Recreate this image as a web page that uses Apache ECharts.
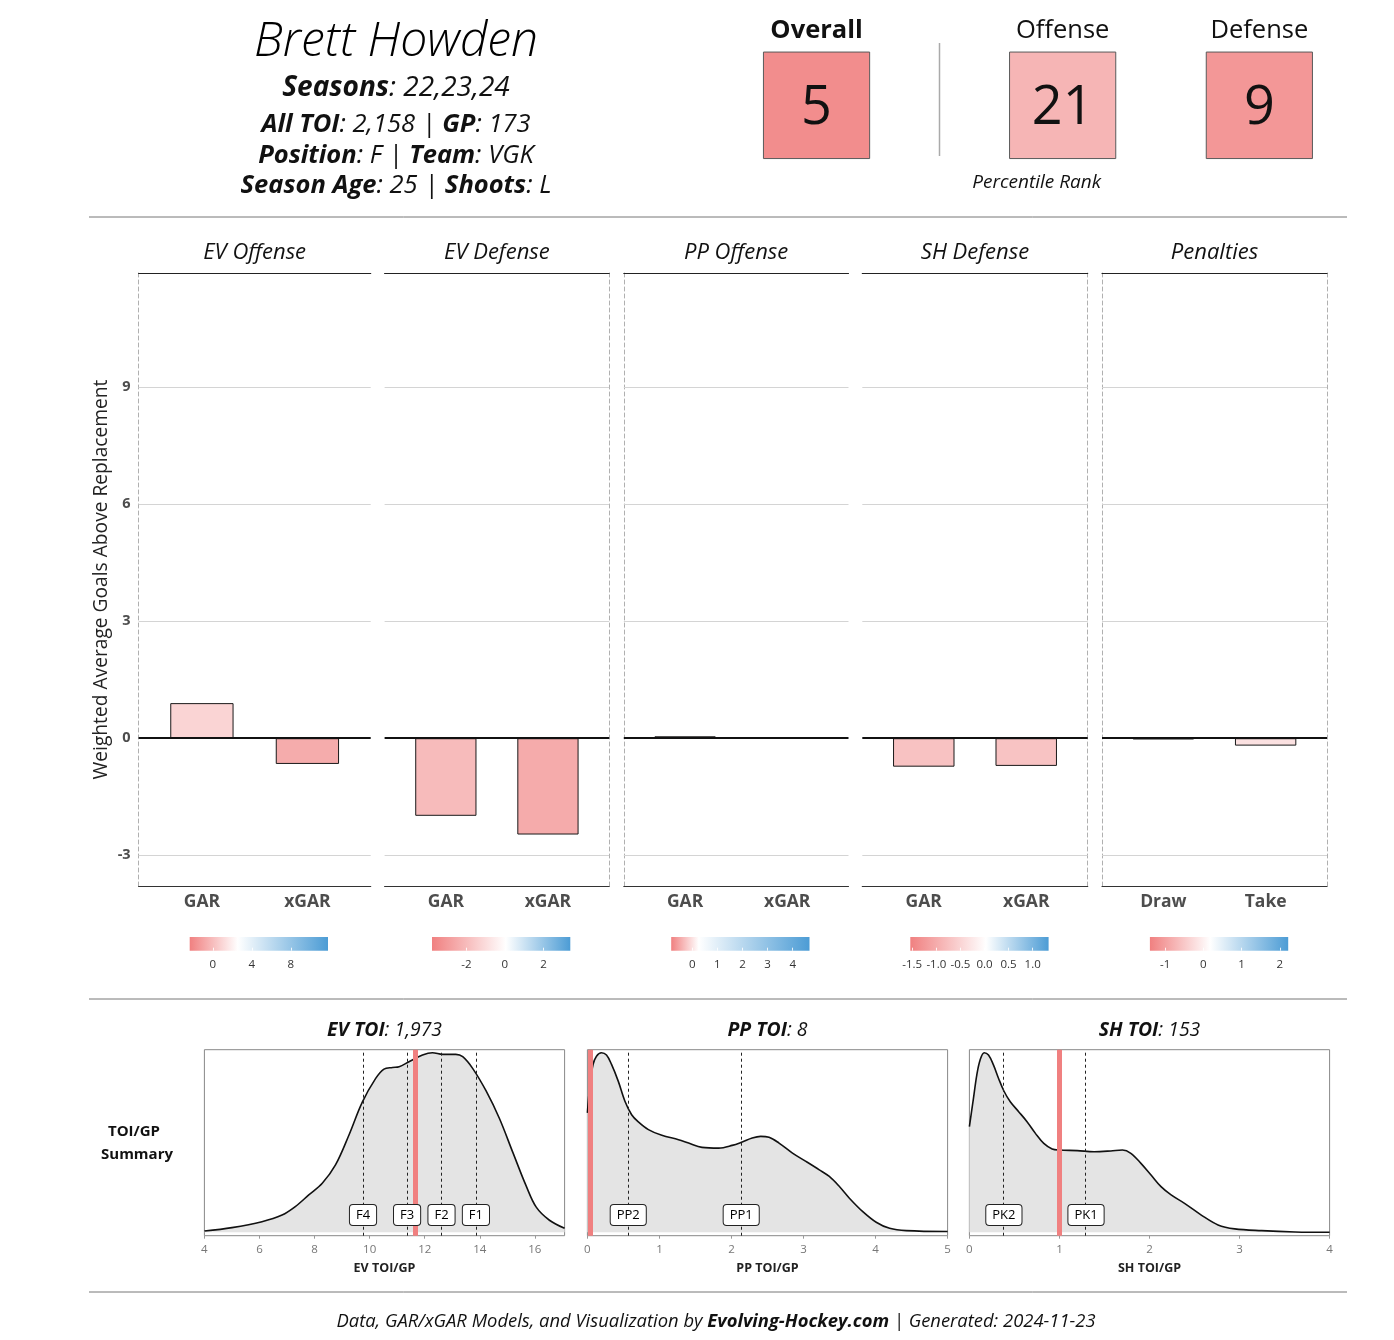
<!DOCTYPE html>
<html><head><meta charset="utf-8">
<script src="https://cdn.jsdelivr.net/npm/echarts@6/dist/echarts.min.js"></script>
<style>html,body{margin:0;padding:0;background:#fff}#c{width:1394px;height:1340px}</style>
</head><body><div id="c"></div>
<script>
// ================= DATA =================
const playerName = 'Brett Howden';
const headerLines = [
  [['Seasons', 1], [': 22,23,24', 0]],
  [['All TOI', 1], [': 2,158 | ', 0], ['GP', 1], [': 173', 0]],
  [['Position', 1], [': F | ', 0], ['Team', 1], [': VGK', 0]],
  [['Season Age', 1], [': 25 | ', 0], ['Shoots', 1], [': L', 0]]
];
const rankNames = ['Overall', 'Offense', 'Defense'];
const rankValues = [5, 21, 9];

const panelNames = ['EV Offense', 'EV Defense', 'PP Offense', 'SH Defense', 'Penalties'];
const panelCats = [['GAR', 'xGAR'], ['GAR', 'xGAR'], ['GAR', 'xGAR'], ['GAR', 'xGAR'], ['Draw', 'Take']];
const evOffense = [0.90, -0.66];
const evDefense = [-1.99, -2.47];
const ppOffense = [0.05, 0.03];
const shDefense = [-0.73, -0.71];
const penalties = [-0.03, -0.19];
const yTicks = [-3, 0, 3, 6, 9];

// colour-bar scales per panel: [low, white point, high]
const legendDomains = [[-2.37, 2.56, 11.81], [-3.78, 0.05, 3.39], [-0.835, 0.26, 4.67], [-1.54, 0.03, 1.33], [-1.40, 0.18, 2.22]];
const legendTicks = [[0, 4, 8], [-2, 0, 2], [0, 1, 2, 3, 4], [-1.5, -1, -0.5, 0, 0.5, 1], [-1, 0, 1, 2]];

// TOI/GP densities
const evToiX = [4.0, 5.0, 6.09, 6.82, 7.30, 7.79, 8.28, 8.76, 9.25, 9.73, 10.22, 10.52, 10.83, 11.07, 11.43, 11.92, 12.28, 12.65, 13.13, 13.38, 13.74, 14.23, 14.71, 15.20, 15.68, 16.05, 16.53, 17.08];
const evToiDensity = [0.007, 0.026, 0.059, 0.096, 0.143, 0.208, 0.273, 0.375, 0.542, 0.724, 0.857, 0.909, 0.918, 0.922, 0.950, 0.987, 1.0, 0.991, 0.991, 0.978, 0.913, 0.787, 0.635, 0.445, 0.26, 0.14, 0.067, 0.022];
const evLineNames = ['F4', 'F3', 'F2', 'F1'];
const evLineValues = [9.76, 11.36, 12.61, 13.86];
const evPlayer = 11.65;

const ppToiX = [0, 0.033, 0.079, 0.126, 0.195, 0.265, 0.335, 0.428, 0.521, 0.614, 0.707, 0.847, 1.033, 1.265, 1.405, 1.591, 1.823, 2.009, 2.149, 2.288, 2.405, 2.521, 2.66, 2.847, 3.033, 3.219, 3.358, 3.498, 3.637, 3.823, 4.009, 4.195, 4.428, 5.0];
const ppToiDensity = [0.665, 0.814, 0.935, 0.981, 1.0, 0.987, 0.935, 0.842, 0.73, 0.655, 0.615, 0.572, 0.54, 0.516, 0.497, 0.473, 0.469, 0.484, 0.503, 0.525, 0.534, 0.529, 0.497, 0.441, 0.395, 0.348, 0.311, 0.255, 0.19, 0.115, 0.056, 0.022, 0.009, 0.004];
const ppLineNames = ['PP2', 'PP1'];
const ppLineValues = [0.567, 2.135];
const ppPlayer = 0.04;

const shToiX = [0, 0.045, 0.082, 0.119, 0.164, 0.212, 0.268, 0.324, 0.383, 0.454, 0.547, 0.64, 0.733, 0.826, 0.919, 1.001, 1.198, 1.384, 1.57, 1.7, 1.793, 1.905, 2.017, 2.128, 2.24, 2.389, 2.575, 2.761, 2.947, 3.245, 3.617, 4.0];
const shToiDensity = [0.588, 0.746, 0.876, 0.96, 1.0, 0.987, 0.931, 0.857, 0.787, 0.727, 0.672, 0.616, 0.551, 0.495, 0.464, 0.458, 0.455, 0.449, 0.453, 0.458, 0.44, 0.384, 0.319, 0.254, 0.208, 0.161, 0.096, 0.041, 0.019, 0.009, 0.002, 0.0];
const shLineNames = ['PK2', 'PK1'];
const shLineValues = [0.383, 1.295];
const shPlayer = 1.0;

const toiTitles = [['EV TOI', ': 1,973'], ['PP TOI', ': 8'], ['SH TOI', ': 153']];
const toiAxisNames = ['EV TOI/GP', 'PP TOI/GP', 'SH TOI/GP'];
const toiTicks = [[4, 6, 8, 10, 12, 14, 16], [0, 1, 2, 3, 4, 5], [0, 1, 2, 3, 4]];
const toiRanges = [[4, 17.08], [0, 5], [0, 4]];
const footerParts = [['Data, GAR/xGAR Models, and Visualization by ', 0], ['Evolving-Hockey.com', 1], [' | Generated: 2024-11-23', 0]];

// ================= STYLE / LAYOUT =================
const FONT = '"Open Sans", "DejaVu Sans", sans-serif';
const LOW = [240, 128, 128], MID = [255, 255, 255], HIGH = [76, 156, 213];
function scaleColor(v, dom) {
  const [lo, mid, hi] = dom;
  let t, end;
  if (v <= mid) { t = Math.min(1, (mid - v) / (mid - lo)); end = LOW; }
  else { t = Math.min(1, (v - mid) / (hi - mid)); end = HIGH; }
  const c = MID.map((m, k) => Math.round(m + (end[k] - m) * t));
  return `rgb(${c.join(',')})`;
}
function gradientFor(dom) {
  const m = (dom[1] - dom[0]) / (dom[2] - dom[0]);
  return { type: 'linear', x: 0, y: 0, x2: 1, y2: 0, colorStops: [
    { offset: 0, color: `rgb(${LOW.join(',')})` },
    { offset: m, color: '#ffffff' },
    { offset: 1, color: `rgb(${HIGH.join(',')})` }] };
}
function richText(parts, x, y, size) {
  const text = parts.map(p => `{${p[1] ? 'b' : 'n'}|${p[0]}}`).join('');
  return { type: 'text', x, y, style: { text, align: 'center', verticalAlign: 'middle',
    rich: { b: { fontStyle: 'italic', fontWeight: 'bold', fontSize: size, fontFamily: FONT, fill: '#111', color: '#111' },
            n: { fontStyle: 'italic', fontWeight: 'normal', fontSize: size, fontFamily: FONT, fill: '#111', color: '#111' } } } };
}

const grids = [], xAxes = [], yAxes = [], series = [], graphics = [];
const panelValues = [evOffense, evDefense, ppOffense, shDefense, penalties];
const panelX = [[138.6, 370.7], [384.6, 609.2], [623.8, 848.5], [862.3, 1087.7], [1102, 1327]];
const dashLeft = [true, false, true, false, true];
const dashRight = [false, true, false, true, true];
const Y_MIN = -3.79, Y_MAX = 11.93;
const dashStyle = { color: '#b0b0b0', type: [4, 3], width: 1 };

panelValues.forEach((vals, i) => {
  const [l, r] = panelX[i]; const w = r - l;
  const g = grids.length;
  grids.push({ left: l, top: 273, width: w, height: 613, outerBoundsMode: 'none' });
  const xb = xAxes.length;
  xAxes.push({ gridIndex: g, type: 'value', min: 0.4, max: 2.6, position: 'bottom',
    axisLine: { show: true, onZero: false, lineStyle: { color: '#333', width: 1.2 } },
    axisTick: { show: false }, splitLine: { show: false },
    axisLabel: { customValues: [1, 2], formatter: v => panelCats[i][Math.round(v) - 1], fontFamily: FONT, fontWeight: 'bold', fontSize: 17.5, color: '#4d4d4d', margin: 7 } });
  xAxes.push({ gridIndex: g, type: 'value', min: 0.4, max: 2.6, position: 'top',
    axisLine: { show: true, onZero: false, lineStyle: { color: '#222', width: 1.2 } },
    axisTick: { show: false }, axisLabel: { show: false }, splitLine: { show: false } });
  const yl = yAxes.length;
  yAxes.push({ gridIndex: g, type: 'value', min: Y_MIN, max: Y_MAX, position: 'left',
    axisLine: { show: dashLeft[i], onZero: false, lineStyle: dashStyle },
    axisTick: { show: false }, splitLine: { show: false },
    axisLabel: i === 0 ? { customValues: yTicks, fontFamily: FONT, fontWeight: 'bold', fontSize: 14.5, color: '#4d4d4d', margin: 8 } : { show: false },
    name: i === 0 ? 'Weighted Average Goals Above Replacement' : '', nameLocation: 'middle', nameGap: 28, nameMoveOverlap: false,
    nameTextStyle: { fontFamily: FONT, fontSize: 19.2, color: '#222' } });
  yAxes.push({ gridIndex: g, type: 'value', min: Y_MIN, max: Y_MAX, position: 'right',
    axisLine: { show: dashRight[i], onZero: false, lineStyle: dashStyle },
    axisTick: { show: false }, axisLabel: { show: false }, splitLine: { show: false } });
  series.push({ type: 'bar', xAxisIndex: xb, yAxisIndex: yl, barWidth: 0.6 * w / 2.2, animation: false,
    data: vals.map((v, k) => ({ value: [k + 1, v], itemStyle: { color: scaleColor(v, legendDomains[i]) } })),
    itemStyle: { borderColor: '#1a1a1a', borderWidth: 1 },
    markLine: { silent: true, symbol: ['none', 'none'], label: { show: false }, animation: false,
      data: yTicks.map(t => ({ yAxis: t, lineStyle: t === 0 ? { color: '#111', width: 2, type: 'solid' } : { color: '#d4d4d4', width: 1, type: 'solid' } })) } });
  graphics.push({ type: 'text', x: (l + r) / 2, y: 253, style: { text: panelNames[i], font: `italic 22px ${FONT}`, fill: '#111', align: 'center', verticalAlign: 'middle' } });
});

// colour bars
const legendLeft = [189.7, 432, 671.2, 910.3, 1149.9];
legendDomains.forEach((dom, i) => {
  const g = grids.length;
  grids.push({ left: legendLeft[i], top: 937, width: 138.3, height: 13.7, show: true, borderWidth: 0, backgroundColor: gradientFor(dom), outerBoundsMode: 'none' });
  xAxes.push({ gridIndex: g, type: 'value', min: dom[0], max: dom[2],
    axisLine: { show: false }, splitLine: { show: false },
    axisTick: { show: true, inside: true, length: 3, customValues: legendTicks[i], lineStyle: { color: 'rgba(255,255,255,0.85)' } },
    axisLabel: { customValues: legendTicks[i], formatter: i === 3 ? (v => v.toFixed(1)) : (v => String(v)), fontSize: 11.5, color: '#333', margin: 8, fontFamily: FONT } });
  yAxes.push({ gridIndex: g, type: 'value', min: 0, max: 1, show: false });
});

// percentile rank cells
const rankLeft = [763.7, 1009.8, 1206.5];
rankNames.forEach((n, i) => {
  const g = grids.length;
  grids.push({ left: rankLeft[i], top: 52.3, width: 105.7, height: 106, outerBoundsMode: 'none' });
  const xi = xAxes.length, yi = yAxes.length;
  xAxes.push({ gridIndex: g, type: 'category', data: [n], position: 'top',
    axisLine: { show: false }, axisTick: { show: false }, splitLine: { show: false },
    axisLabel: { fontSize: 25.5, fontWeight: i === 0 ? 'bold' : 'normal', color: '#111', margin: 9, fontFamily: FONT } });
  yAxes.push({ gridIndex: g, type: 'category', data: [''], show: false });
  series.push({ type: 'heatmap', xAxisIndex: xi, yAxisIndex: yi, animation: false,
    data: [{ value: [0, 0, rankValues[i]], itemStyle: { color: scaleColor(rankValues[i], [0, 50, 100]) } }],
    itemStyle: { borderColor: '#5a5a5a', borderWidth: 1 },
    label: { show: true, formatter: p => p.value[2], fontSize: 54, color: '#111', fontFamily: FONT, offset: [0, 3] } });
});

// TOI densities
const dens = [
  { x: evToiX, d: evToiDensity, names: evLineNames, lines: evLineValues, player: evPlayer, left: 204.4 },
  { x: ppToiX, d: ppToiDensity, names: ppLineNames, lines: ppLineValues, player: ppPlayer, left: 587.4 },
  { x: shToiX, d: shToiDensity, names: shLineNames, lines: shLineValues, player: shPlayer, left: 969.4 }
];
const labelLevel = 0.096;
dens.forEach((D, i) => {
  const g = grids.length;
  grids.push({ left: D.left, top: 1049.7, width: 360.2, height: 186, show: true, borderColor: '#888', borderWidth: 1, backgroundColor: 'transparent', outerBoundsMode: 'none' });
  const xi = xAxes.length, yi = yAxes.length;
  xAxes.push({ gridIndex: g, type: 'value', min: toiRanges[i][0], max: toiRanges[i][1],
    axisLine: { show: false, onZero: false }, splitLine: { show: false },
    axisTick: { show: true, customValues: toiTicks[i], length: 3, lineStyle: { color: '#999' } },
    axisLabel: { customValues: toiTicks[i], fontSize: 11.5, color: '#777', margin: 8, fontFamily: FONT },
    name: toiAxisNames[i], nameLocation: 'middle', nameGap: 26, nameMoveOverlap: false,
    nameTextStyle: { fontFamily: FONT, fontSize: 12.5, fontWeight: 'bold', color: '#222' } });
  yAxes.push({ gridIndex: g, type: 'value', min: -0.019, max: 1.017, show: false });
  series.push({ type: 'line', xAxisIndex: xi, yAxisIndex: yi, smooth: 0.35, symbol: 'none', animation: false,
    data: D.x.map((x, k) => [x, D.d[k]]),
    lineStyle: { color: '#111', width: 1.6 }, areaStyle: { color: '#e4e4e4', opacity: 1 },
    markLine: { silent: true, symbol: ['none', 'none'], label: { show: false }, animation: false,
      data: D.lines.map(v => ({ xAxis: v, lineStyle: { color: '#222', width: 1, type: [3, 3] } }))
        .concat([{ xAxis: D.player, lineStyle: { color: '#F08080', width: 5, type: 'solid' } }]) } });
  series.push({ type: 'scatter', xAxisIndex: xi, yAxisIndex: yi, symbol: 'rect', symbolSize: 1, animation: false, z: 6,
    itemStyle: { color: 'rgba(0,0,0,0)' },
    data: D.lines.map((v, k) => ({ value: [v, labelLevel], name: D.names[k] })),
    label: { show: true, position: 'inside', formatter: '{b}', fontSize: 13, color: '#000', opacity: 1, fontFamily: FONT,
      backgroundColor: '#fff', borderColor: '#222', borderWidth: 1, borderRadius: 3, padding: [4, 6, 3, 6] } });
  graphics.push(richText(toiTitles[i].map((t, k) => [t, k === 0 ? 1 : 0]), D.left + 180.1, 1030, 19.4));
});

// header
graphics.push({ type: 'text', x: 396, y: 42, style: { text: playerName, font: `italic 300 48px ${FONT}`, fill: '#000', align: 'center', verticalAlign: 'middle' } });
const headerY = [88, 125, 156, 186], headerSize = [28, 25.5, 25.5, 25.5];
headerLines.forEach((p, k) => graphics.push(richText(p, 396, headerY[k], headerSize[k])));
graphics.push({ type: 'text', x: 1036.6, y: 183, style: { text: 'Percentile Rank', font: `italic 19px ${FONT}`, fill: '#111', align: 'center', verticalAlign: 'middle' } });
graphics.push({ type: 'line', shape: { x1: 939.5, y1: 43, x2: 939.5, y2: 156 }, style: { stroke: '#aaa', lineWidth: 1.5 } });
[217, 999, 1292].forEach(y => graphics.push({ type: 'line', shape: { x1: 89, y1: y, x2: 1347, y2: y }, style: { stroke: '#777', lineWidth: 1 } }));
graphics.push({ type: 'text', x: 134, y: 1132, style: { text: 'TOI/GP', font: `bold 15px ${FONT}`, fill: '#111', align: 'center', verticalAlign: 'middle' } });
graphics.push({ type: 'text', x: 137, y: 1155, style: { text: 'Summary', font: `bold 15px ${FONT}`, fill: '#111', align: 'center', verticalAlign: 'middle' } });
graphics.push(richText(footerParts, 716, 1322, 18.4));

const chart = echarts.init(document.getElementById('c'), null, { renderer: 'canvas', width: 1394, height: 1340 });
chart.setOption({
  animation: false,
  backgroundColor: '#fff',
  textStyle: { fontFamily: FONT },
  grid: grids, xAxis: xAxes, yAxis: yAxes, series: series,
  graphic: { elements: graphics }
});
</script>
</body></html>
